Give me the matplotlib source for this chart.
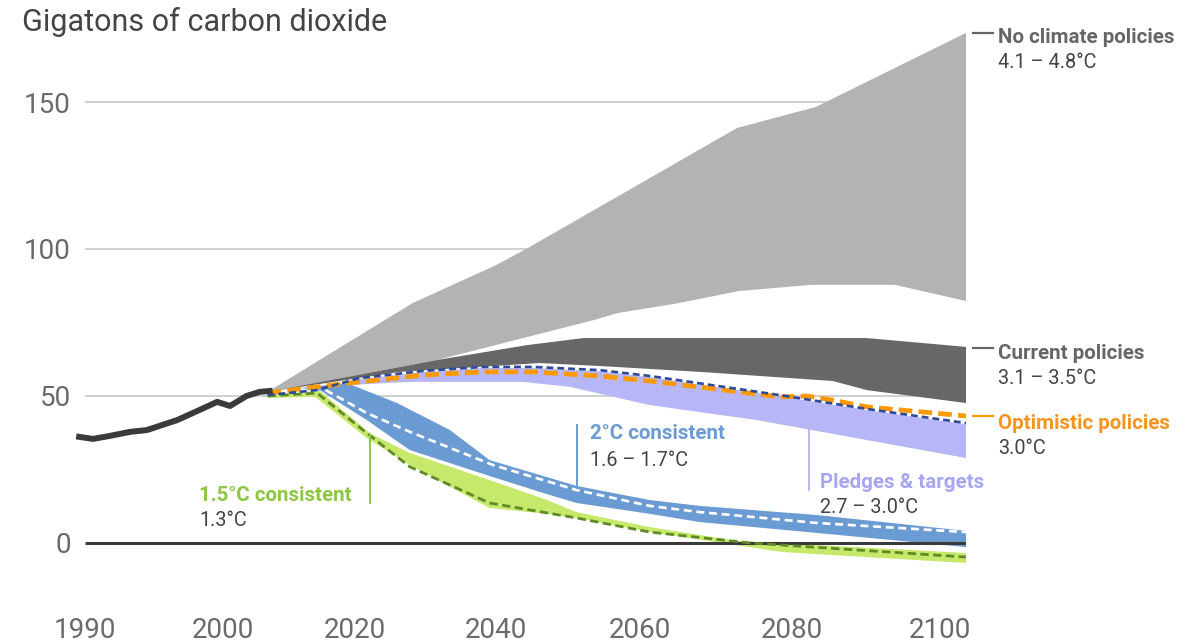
import numpy as np
import matplotlib
matplotlib.use('Agg')
import matplotlib.pyplot as plt

# the drawn time axis is not linear: the first decade is stretched
axis_years = [1970, 1990, 2000, 2020, 2040, 2060, 2080, 2100, 2150]
axis_pos = [-191, 85, 223, 355, 496, 640, 792, 940, 1310]


def fwd(x):
    return np.interp(x, axis_years, axis_pos)


def inv(x):
    return np.interp(x, axis_pos, axis_years)


# historical emissions
hist_years = [1989.6, 1990.6, 1991.8, 1993.3, 1994.5, 1996.7, 1998.3, 1999.6, 2001.1, 2003.6, 2005.6, 2007.1]
hist_vals = [36.1, 35.4, 36.4, 37.8, 38.4, 41.8, 45.2, 48.0, 46.6, 50.0, 51.4, 51.7]

# no climate policies band
nocp_up_years = [2006.8, 2024.3, 2028.2, 2040.1, 2044.7, 2072.8, 2083.2, 2103.5]
nocp_up_vals = [51.4, 75.9, 81.6, 94.6, 100.7, 141.2, 148.3, 173.5]
nocp_lo_years = [2006.8, 2031.6, 2053.7, 2056.9, 2065.1, 2073.0, 2082.6, 2093.9, 2103.5]
nocp_lo_vals = [51.4, 62.2, 75.9, 78.2, 81.6, 85.7, 87.8, 87.8, 82.3]

# current policies band
cur_up_years = [2006.8, 2031.6, 2044.3, 2052.1, 2090.1, 2103.5]
cur_up_vals = [51.4, 62.2, 67.3, 69.7, 69.7, 66.7]
cur_lo_years = [2006.8, 2026.4, 2046.1, 2054.4, 2067.9, 2085.5, 2090.1, 2103.5]
cur_lo_vals = [51.4, 58.2, 61.2, 60.2, 58.2, 55.1, 52.0, 47.6]

# pledges & targets band (top follows the pledge line)
pledge_years = [2006.8, 2014.2, 2020.7, 2029.6, 2038.2, 2045.1, 2054.4, 2061.3, 2078.4, 2090.1, 2103.5]
pledge_vals = [50.3, 52.0, 56.1, 58.5, 59.9, 59.9, 58.8, 56.8, 50.3, 45.6, 40.8]
pledge_lo_years = [2011.7, 2018.8, 2027.8, 2043.7, 2050.3, 2061.3, 2075.4, 2103.5]
pledge_lo_vals = [51.0, 53.7, 54.8, 54.8, 53.1, 46.9, 41.8, 28.9]

# optimistic policies line
opt_years = [2006.8, 2014.2, 2020.7, 2029.6, 2038.2, 2045.1, 2054.4, 2061.3, 2078.4, 2082.0, 2085.5, 2090.1, 2103.5]
opt_vals = [51.0, 53.1, 54.8, 57.1, 58.2, 58.2, 56.8, 55.1, 49.7, 50.0, 48.6, 46.3, 43.2]

# 2°C consistent band and median
c2_up_years = [2011.7, 2018.8, 2026.0, 2033.5, 2039.1, 2047.5, 2051.2, 2061.3, 2067.9, 2083.4, 2103.5]
c2_up_vals = [52.7, 54.4, 47.6, 38.4, 28.2, 22.1, 19.4, 14.6, 12.6, 9.5, 4.1]
c2_lo_years = [2011.7, 2014.7, 2021.7, 2027.8, 2039.6, 2047.5, 2051.2, 2061.3, 2067.9, 2083.4, 2103.5]
c2_lo_vals = [52.7, 52.0, 41.8, 31.6, 22.4, 16.3, 13.6, 9.9, 7.1, 3.4, -1.4]
c2_mid_years = [2015.6, 2021.7, 2027.8, 2039.6, 2051.2, 2061.3, 2067.9, 2083.4, 2103.5]
c2_mid_vals = [52.0, 44.2, 37.8, 26.5, 18.0, 12.6, 10.5, 6.8, 3.7]

# 1.5°C consistent band and median
c15_up_years = [2006.8, 2014.7, 2022.1, 2027.8, 2039.1, 2047.1, 2051.2, 2061.3, 2072.8, 2103.5]
c15_up_vals = [50.3, 51.7, 37.4, 30.6, 21.4, 14.6, 10.5, 5.4, 0.7, -3.4]
c15_lo_years = [2006.8, 2014.0, 2021.7, 2027.8, 2039.1, 2047.1, 2051.2, 2061.3, 2078.8, 2103.5]
c15_lo_vals = [49.3, 49.7, 35.7, 26.5, 11.9, 9.9, 8.5, 3.7, -3.1, -6.8]
c15_mid_years = [2006.8, 2014.3, 2021.7, 2027.8, 2039.1, 2051.2, 2061.3, 2074.5, 2103.5]
c15_mid_vals = [50.0, 51.0, 37.4, 25.9, 13.6, 8.5, 3.7, 0.0, -4.8]

y_ticks = [0, 50, 100, 150]
x_ticks = [1990, 2000, 2020, 2040, 2060, 2080, 2100]
x_start, x_end = 1990, 2103.5

text_font = ['Roboto', 'DejaVu Sans']


def band(ax, xu, yu, xl, yl, color, z):
    xs = np.concatenate([xu, xl[::-1]])
    ys = np.concatenate([yu, yl[::-1]])
    ax.fill(xs, ys, color=color, lw=0, zorder=z)


fig = plt.figure(figsize=(11.92, 6.44), dpi=100)
ax = fig.add_axes([75 / 1192, 44 / 644, 891 / 1192, 590 / 644])
ax.set_xscale('function', functions=(fwd, inv))
ax.set_xlim(1989.3, x_end)
ax.set_ylim(-19.4, 181.3)
for s in ax.spines.values():
    s.set_visible(False)

ax.hlines(y_ticks[1:], x_start, x_end, color='#c4c4c4', lw=1.1, zorder=0)

band(ax, nocp_up_years, nocp_up_vals, nocp_lo_years, nocp_lo_vals, '#b3b3b3', 1)
band(ax, cur_up_years, cur_up_vals, cur_lo_years, cur_lo_vals, '#676767', 2)
band(ax, pledge_years, np.array(pledge_vals) - 0.4, pledge_lo_years, pledge_lo_vals, '#b6b6f8', 3)
band(ax, c15_up_years, c15_up_vals, c15_lo_years, c15_lo_vals, '#c6e86b', 4)
band(ax, c2_up_years, c2_up_vals, c2_lo_years, c2_lo_vals, '#6b9bd3', 5)

ax.hlines(0, x_start, x_end, color='#3a3a3a', lw=2.2, zorder=6)

ax.plot(c15_mid_years, c15_mid_vals, color='#5f8a28', lw=2.0, ls=(0, (3.0, 1.6)), zorder=7)
ax.plot(c2_mid_years, c2_mid_vals, color='white', lw=1.9, ls=(0, (3.0, 1.8)), zorder=7)
ax.plot(opt_years, opt_vals, color='#ff9900', lw=3.4, ls=(0, (2.9, 1.3)), zorder=8)
ax.plot(pledge_years, pledge_vals, color='#2f4a9b', lw=1.9, ls=(0, (2.6, 1.5)), zorder=9)
ax.plot(hist_years, hist_vals, color='#3a3a3a', lw=4.3, solid_joinstyle='round', zorder=10)

# ticks
ax.set_yticks(y_ticks)
ax.set_yticklabels([str(v) for v in y_ticks])
ax.set_xticks(x_ticks)
ax.set_xticklabels([str(v) for v in x_ticks])
ax.xaxis.set_minor_locator(matplotlib.ticker.NullLocator())
ax.tick_params(axis='both', length=0, labelcolor='#6a6a6a', labelsize=20)
ax.tick_params(axis='y', pad=3)
ax.tick_params(axis='x', pad=12)
for lab in ax.get_xticklabels() + ax.get_yticklabels():
    lab.set_family(text_font)

fig.text(22 / 1192, 1 - 22 / 644, 'Gigatons of carbon dioxide', family=text_font,
         fontsize=22, color='#444444', va='center', ha='left')

# right hand labels with short connectors
lx = 2107.8
for yv, col in [(173.5, '#666666'), (66.3, '#666666'), (43.2, '#ff9900')]:
    ax.plot([2104.5, 2107.2], [yv, yv], color=col, lw=1.6, clip_on=False, zorder=10)

labels = [
    (lx, 172.1, 'No climate policies', '#666666', 'bold'),
    (lx, 163.3, '4.1 – 4.8°C', '#444444', 'normal'),
    (lx, 64.6, 'Current policies', '#666666', 'bold'),
    (lx, 55.8, '3.1 – 3.5°C', '#444444', 'normal'),
    (lx, 40.8, 'Optimistic policies', '#f7941d', 'bold'),
    (lx, 32.3, '3.0°C', '#444444', 'normal'),
    (2053.1, 37.4, '2°C consistent', '#6b9bd3', 'bold'),
    (2053.1, 28.2, '1.6 – 1.7°C', '#444444', 'normal'),
    (2083.8, 20.7, 'Pledges & targets', '#a6a6f2', 'bold'),
    (2083.8, 11.9, '2.7 – 3.0°C', '#444444', 'normal'),
    (1998.3, 16.3, '1.5°C consistent', '#8dc63f', 'bold'),
    (1998.3, 7.8, '1.3°C', '#444444', 'normal'),
]
for x, y, s, col, w in labels:
    ax.text(x, y, s, color=col, fontweight=w, fontsize=14.8 if w == 'bold' else 14.3,
            family=text_font, ha='left', va='center', clip_on=False, zorder=11)

# pointer lines from labels to bands
ax.plot([2022.1, 2022.1], [36.7, 13.6], color='#8dc63f', lw=1.4, zorder=11)
ax.plot([2051.3, 2051.3], [40.1, 18.7], color='#6b9bd3', lw=1.4, zorder=11)
ax.plot([2082.3, 2082.3], [39.1, 18.0], color='#b6b6f8', lw=1.4, zorder=11)

fig.savefig('out.png', dpi=100)
